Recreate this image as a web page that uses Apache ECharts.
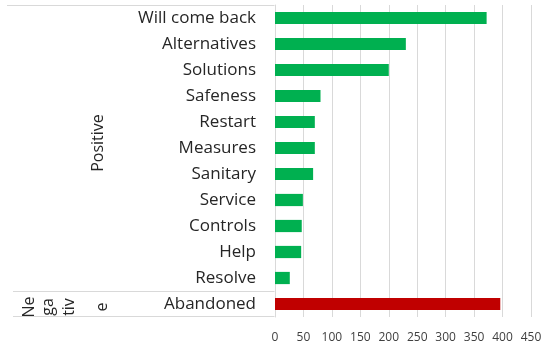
<!DOCTYPE html>
<html>
<head>
<meta charset="utf-8">
<script src="https://cdn.jsdelivr.net/npm/echarts@6/dist/echarts.min.js"></script>
<style>
  html, body { margin: 0; padding: 0; background: #ffffff; }
  #chart { width: 551px; height: 347px; }
</style>
</head>
<body>
<div id="chart"></div>
<script>
// Mentions per topic, top to bottom
const categories = ['Will come back', 'Alternatives', 'Solutions', 'Safeness', 'Restart',
  'Measures', 'Sanitary', 'Service', 'Controls', 'Help', 'Resolve', 'Abandoned'];
const values = [372, 230, 200, 80, 70, 70, 67, 49, 47, 46, 26, 396];
const groups = ['Positive', 'Positive', 'Positive', 'Positive', 'Positive', 'Positive',
  'Positive', 'Positive', 'Positive', 'Positive', 'Positive', 'Negative'];
const xTicks = [0, 50, 100, 150, 200, 250, 300, 350, 400, 450];

const groupColor = { Positive: '#00b050', Negative: '#c00000' };
const lineColor = '#d9d9d9';
const textColor = '#262626';
const textFont = 'Open Sans';
const labelSize = 17;
const groupSize = 16;

const chart = echarts.init(document.getElementById('chart'), null, { renderer: 'canvas' });

const option = {
  animation: false,
  backgroundColor: '#ffffff',
  grid: { left: 275, right: 20, top: 5, bottom: 30, containLabel: false },
  xAxis: {
    type: 'value',
    min: xTicks[0],
    max: xTicks[xTicks.length - 1],
    interval: xTicks[1] - xTicks[0],
    axisLine: { show: false },
    axisTick: { show: false },
    splitLine: { show: true, lineStyle: { color: lineColor, width: 1 } },
    axisLabel: { color: '#404040', fontSize: 12, fontFamily: textFont, margin: 15 }
  },
  yAxis: {
    type: 'category',
    inverse: true,
    data: categories,
    axisLine: { show: true, lineStyle: { color: lineColor, width: 1 } },
    axisTick: { show: false },
    axisLabel: { color: textColor, fontSize: labelSize, fontFamily: textFont, margin: 19 }
  },
  series: [{
    type: 'bar',
    barWidth: '47%',
    data: values.map((v, i) => ({ value: v, itemStyle: { color: groupColor[groups[i]] } }))
  }]
};
chart.setOption(option);

// Group labels and separators on the left of the category labels
const axisX = 274.5;
const rowY = (i) => chart.convertToPixel({ yAxisIndex: 0 }, i);
const band = rowY(1) - rowY(0);
const graphics = [];
const groupFont = groupSize + 'px "' + textFont + '"';

// group spans
const spans = [];
groups.forEach((g, i) => {
  if (!spans.length || spans[spans.length - 1].name !== g) spans.push({ name: g, start: i, end: i });
  else spans[spans.length - 1].end = i;
});

// top line of the label table
graphics.push({
  type: 'line', silent: true,
  shape: { x1: 7, y1: Math.round(rowY(0) - band / 2) + 0.5, x2: axisX, y2: Math.round(rowY(0) - band / 2) + 0.5 },
  style: { stroke: lineColor, lineWidth: 1 }
});

spans.forEach((s, k) => {
  const yTop = rowY(s.start) - band / 2;
  const yBot = rowY(s.end) + band / 2;
  if (k > 0) {
    graphics.push({
      type: 'line', silent: true,
      shape: { x1: 13, y1: Math.round(yTop) + 0.5, x2: axisX, y2: Math.round(yTop) + 0.5 },
      style: { stroke: lineColor, lineWidth: 1 }
    });
  }
  if (k === spans.length - 1) {
    graphics.push({
      type: 'line', silent: true,
      shape: { x1: 13, y1: Math.round(yBot) - 0.5, x2: axisX, y2: Math.round(yBot) - 0.5 },
      style: { stroke: lineColor, lineWidth: 1 }
    });
  }
  const yMid = (yTop + yBot) / 2;
  if (s.end > s.start) {
    graphics.push({
      type: 'text', silent: true, x: 98, y: yMid - 5, rotation: Math.PI / 2,
      style: { text: s.name, font: groupFont, fill: textColor,
        align: 'center', verticalAlign: 'middle' }
    });
  } else {
    // a one-row group is too short for the word, so it wraps into narrow pieces
    const pieces = [s.name.slice(0, 2), s.name.slice(2, 4), s.name.slice(4, 7), s.name.slice(7)];
    const xs = [29, 48, 69, 102];
    pieces.forEach((p, j) => {
      graphics.push({
        type: 'text', silent: true, x: xs[j], y: yMid + 3, rotation: Math.PI / 2,
        style: { text: p, font: groupFont, fill: textColor,
          align: 'center', verticalAlign: 'middle' }
      });
    });
  }
});

chart.setOption({ graphic: graphics });
</script>
</body>
</html>
